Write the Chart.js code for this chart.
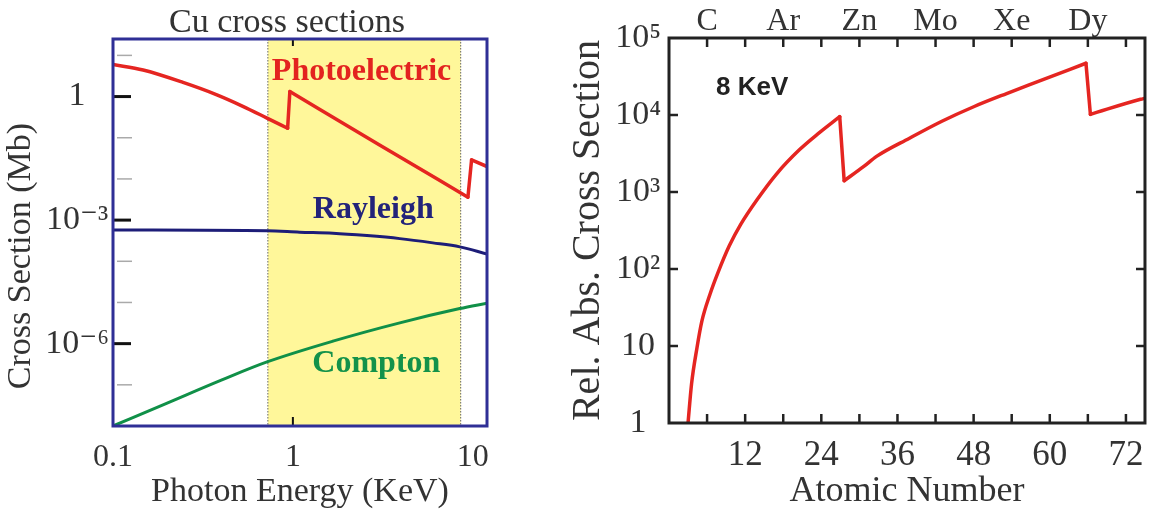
<!DOCTYPE html>
<html>
<head>
<meta charset="utf-8">
<script src="https://cdn.jsdelivr.net/npm/chart.js@4.4.1/dist/chart.umd.min.js"></script>
<style>
  html, body { margin: 0; padding: 0; background: #fff; }
  body { width: 1159px; height: 510px; position: relative; overflow: hidden; }
  #leftBox { position: absolute; left: 0; top: 0; width: 530px; height: 510px; }
  #rightBox { position: absolute; left: 540px; top: 0; width: 619px; height: 510px; }
</style>
</head>
<body>
<div id="leftBox"><canvas id="leftChart"></canvas></div>
<div id="rightBox"><canvas id="rightChart"></canvas></div>
<script>
// Cu cross sections (Mb) against photon energy (KeV)
const photoKeV = [0.1, 0.147, 0.245, 0.378, 0.527, 0.718, 0.935, 0.962, 3.0, 9.4, 9.85, 12];
const photoMb = [6.0, 4.4, 2.2, 1.1, 0.58, 0.30, 0.17, 1.32, 0.069, 0.0036, 0.029, 0.020];
const photoEdges = [6, 9]; // last point before the L and K edge jumps
const rayleighKeV = [0.1, 0.72, 1.09, 1.67, 2.58, 3.93, 6.0, 8.47, 12];
const rayleighMb = [5.75e-4, 5.5e-4, 5.1e-4, 4.8e-4, 4.2e-4, 3.55e-4, 2.8e-4, 2.24e-4, 1.5e-4];
const comptonKeV = [0.1, 0.2, 0.4, 0.718, 1.67, 3.93, 8.47, 12];
const comptonMb = [1.0e-8, 3.6e-8, 1.3e-7, 3.6e-7, 1.15e-6, 3.2e-6, 7.1e-6, 9.6e-6];
const energyTicks = [0.1, 1, 10];
const energyTickLabels = ['0.1', '1', '10'];
const energyTickMarks = [1];
const sectionTicks = [1e-6, 1e-3, 1];
const sectionTickLabels = ['10⁻⁶', '10⁻³', '1'];
const sectionMinorTicks = [1e-7, 1e-5, 1e-4, 1e-2, 1e-1, 10];
const bandKeV = [0.726, 8.57];

// relative absorption cross section at 8 KeV against atomic number
const atomicNumber = [3.0, 3.55, 4.41, 5.18, 6.46, 7.7, 9.5, 11.3, 13.9, 16.9, 20.5, 23.6, 26.9,
  27.6, 30.7, 32.7, 37.9, 43.0, 48.1, 53.2, 58.3, 65.7, 66.4, 74.3, 75];
const relAbs = [1.0, 3.2, 9.5, 21, 47, 89, 200, 380, 800, 1700, 3500, 5800, 9500,
  1400, 2150, 2900, 5000, 8300, 12900, 19000, 27500, 47000, 10200, 16000, 16500];
const relAbsEdges = [12, 21];
const zTicks = [12, 24, 36, 48, 60, 72];
const zTickMarks = [6, 12, 18, 24, 30, 36, 42, 48, 54, 60, 66, 72];
const elementZ = [6, 18, 30, 42, 54, 66];
const elementNames = ['C', 'Ar', 'Zn', 'Mo', 'Xe', 'Dy'];
const absTicks = [1, 10, 100, 1000, 10000, 100000];
const absTickLabels = ['1', '10', '10²', '10³', '10⁴', '10⁵'];
const absTickMarks = [10, 100, 1000, 10000];

const SERIF = "'Liberation Serif', 'DejaVu Serif', serif";
const SANS = "'Liberation Sans', Arial, sans-serif";
const TEXT = '#333';

function points(xs, ys) {
    return xs.map((x, i) => ({ x: x, y: ys[i] }));
}

// split a curve at its absorption edges so each smooth branch gets its own spline
function branches(xs, ys, edges) {
    const out = [];
    let start = 0;
    edges.concat([xs.length - 1]).forEach(end => {
        out.push(points(xs.slice(start, end + 1), ys.slice(start, end + 1)));
        if (end < xs.length - 1) {
            out.push(points(xs.slice(end, end + 2), ys.slice(end, end + 2)));
        }
        start = end + 1;
    });
    return out;
}

function curve(label, data, color, width) {
    return {
        label: label,
        data: data,
        borderColor: color,
        borderWidth: width,
        borderCapStyle: 'round',
        cubicInterpolationMode: 'monotone'
    };
}

function line(ctx, x0, y0, x1, y1) {
    ctx.beginPath();
    ctx.moveTo(x0, y0);
    ctx.lineTo(x1, y1);
    ctx.stroke();
}

const leftDecor = {
    id: 'leftDecor',
    beforeDatasetsDraw(chart) {
        const { ctx, chartArea: a, scales: { x } } = chart;
        const x0 = x.getPixelForValue(bandKeV[0]);
        const x1 = x.getPixelForValue(bandKeV[1]);
        ctx.save();
        ctx.fillStyle = '#fff79a';
        ctx.fillRect(x0, a.top, x1 - x0, a.bottom - a.top);
        ctx.strokeStyle = '#666';
        ctx.lineWidth = 1;
        ctx.setLineDash([1.5, 1.5]);
        line(ctx, x0, a.top, x0, a.bottom);
        line(ctx, x1, a.top, x1, a.bottom);
        ctx.restore();
    },
    afterDatasetsDraw(chart) {
        const { ctx, chartArea: a, scales: { x, y } } = chart;
        ctx.save();
        // minor and major ticks on the left axis
        ctx.strokeStyle = '#aaa';
        ctx.lineWidth = 1.5;
        sectionMinorTicks.forEach(v => {
            const py = y.getPixelForValue(v);
            line(ctx, a.left + 4, py, a.left + 19, py);
        });
        ctx.strokeStyle = '#111';
        ctx.lineWidth = 3;
        sectionTicks.forEach(v => {
            const py = y.getPixelForValue(v);
            line(ctx, a.left, py, a.left + 18, py);
        });
        ctx.lineWidth = 2;
        energyTickMarks.forEach(v => {
            const px = x.getPixelForValue(v);
            line(ctx, px, a.bottom, px, a.bottom - 9);
            line(ctx, px, a.top, px, a.top + 7);
        });
        // frame
        ctx.strokeStyle = '#2f2f96';
        ctx.lineWidth = 3;
        ctx.strokeRect(a.left, a.top, a.right - a.left, a.bottom - a.top);
        // series names
        ctx.font = 'bold 32px ' + SERIF;
        ctx.textBaseline = 'middle';
        ctx.textAlign = 'left';
        ctx.fillStyle = '#e3231f';
        ctx.fillText('Photoelectric', x.getPixelForValue(0.764), y.getPixelForValue(4.1));
        ctx.textAlign = 'center';
        ctx.fillStyle = '#23237a';
        ctx.fillText('Rayleigh', x.getPixelForValue(2.8), y.getPixelForValue(1.75e-3));
        ctx.fillStyle = '#13924a';
        ctx.fillText('Compton', x.getPixelForValue(2.91), y.getPixelForValue(3.25e-7));
        // chart title and y axis title
        ctx.fillStyle = TEXT;
        ctx.font = '34px ' + SERIF;
        ctx.fillText('Cu cross sections', 287, 23);
        ctx.translate(21, 256);
        ctx.rotate(-Math.PI / 2);
        ctx.fillText('Cross Section (Mb)', 0, 0);
        ctx.restore();
    }
};

const rightDecor = {
    id: 'rightDecor',
    afterDatasetsDraw(chart) {
        const { ctx, chartArea: a, scales: { x, y } } = chart;
        ctx.save();
        ctx.strokeStyle = '#222';
        ctx.lineWidth = 2.5;
        zTickMarks.forEach(v => {
            const px = x.getPixelForValue(v);
            line(ctx, px, a.bottom, px, a.bottom - 9);
            line(ctx, px, a.top, px, a.top + 9);
        });
        absTickMarks.forEach(v => {
            const py = y.getPixelForValue(v);
            line(ctx, a.left, py, a.left + 9, py);
            line(ctx, a.right, py, a.right - 9, py);
        });
        ctx.lineWidth = 3;
        ctx.strokeRect(a.left, a.top, a.right - a.left, a.bottom - a.top);
        ctx.fillStyle = '#222';
        ctx.font = 'bold 26px ' + SANS;
        ctx.textAlign = 'left';
        ctx.textBaseline = 'middle';
        ctx.fillText('8 KeV', x.getPixelForValue(7.4), y.getPixelForValue(22400));
        ctx.restore();
    }
};

const leftSets = [];
branches(photoKeV, photoMb, photoEdges).forEach(d => leftSets.push(curve('Photoelectric', d, '#e52521', 3.5)));
leftSets.push(curve('Rayleigh', points(rayleighKeV, rayleighMb), '#1d1d78', 3));
leftSets.push(curve('Compton', points(comptonKeV, comptonMb), '#109048', 3));

new Chart(document.getElementById('leftChart'), {
    type: 'line',
    data: { datasets: leftSets },
    options: {
        responsive: true,
        maintainAspectRatio: false,
        animation: false,
        events: [],
        layout: { padding: { left: 0, right: 43, top: 39, bottom: 0 } },
        elements: { point: { radius: 0 }, line: { fill: false } },
        plugins: { legend: { display: false }, tooltip: { enabled: false } },
        scales: {
            x: {
                type: 'logarithmic',
                min: 0.1,
                max: 12,
                afterBuildTicks: axis => { axis.ticks = energyTicks.map(v => ({ value: v })); },
                afterFit: scale => { scale.height = 84; },
                grid: { display: false, drawTicks: false },
                border: { display: false },
                ticks: {
                    autoSkip: false,
                    maxRotation: 0,
                    padding: 16,
                    color: TEXT,
                    font: { family: SERIF, size: 32, lineHeight: 1 },
                    callback: v => energyTickLabels[energyTicks.indexOf(v)]
                },
                title: {
                    display: true,
                    text: 'Photon Energy (KeV)',
                    color: TEXT,
                    font: { family: SERIF, size: 34, lineHeight: 1 },
                    padding: { top: 0, bottom: 1 }
                }
            },
            y: {
                type: 'logarithmic',
                min: 1e-8,
                max: 25,
                afterBuildTicks: axis => { axis.ticks = sectionTicks.map(v => ({ value: v })); },
                afterFit: scale => { scale.width = 113; },
                grid: { display: false, drawTicks: false },
                border: { display: false },
                ticks: {
                    autoSkip: false,
                    crossAlign: 'center',
                    padding: 4,
                    color: TEXT,
                    font: { family: SERIF, size: 34, lineHeight: 1 },
                    callback: v => sectionTickLabels[sectionTicks.indexOf(v)]
                }
            }
        }
    },
    plugins: [leftDecor]
});

const rightSets = branches(atomicNumber, relAbs, relAbsEdges).map(d => {
    const ds = curve('Rel. Abs. Cross Section', d, '#e52521', 3.5);
    ds.xAxisID = 'x';
    ds.yAxisID = 'y';
    return ds;
});

new Chart(document.getElementById('rightChart'), {
    type: 'line',
    data: { datasets: rightSets },
    options: {
        responsive: true,
        maintainAspectRatio: false,
        animation: false,
        events: [],
        layout: { padding: { left: 0, right: 2, top: 0, bottom: 0 } },
        elements: { point: { radius: 0 }, line: { fill: false } },
        plugins: { legend: { display: false }, tooltip: { enabled: false } },
        scales: {
            x: {
                type: 'linear',
                position: 'bottom',
                min: 0,
                max: 75,
                afterBuildTicks: axis => { axis.ticks = zTicks.map(v => ({ value: v })); },
                afterFit: scale => { scale.height = 87; },
                grid: { display: false, drawTicks: false },
                border: { display: false },
                ticks: {
                    autoSkip: false,
                    maxRotation: 0,
                    padding: 15,
                    color: TEXT,
                    font: { family: SERIF, size: 35, lineHeight: 1 }
                },
                title: {
                    display: true,
                    text: 'Atomic Number',
                    color: TEXT,
                    font: { family: SERIF, size: 36, lineHeight: 1 },
                    padding: { top: 0, bottom: 0 }
                }
            },
            x2: {
                type: 'linear',
                position: 'top',
                min: 0,
                max: 75,
                afterBuildTicks: axis => { axis.ticks = elementZ.map(v => ({ value: v })); },
                afterFit: scale => { scale.height = 38; },
                grid: { display: false, drawTicks: false },
                border: { display: false },
                ticks: {
                    autoSkip: false,
                    maxRotation: 0,
                    padding: 0,
                    color: TEXT,
                    font: { family: SERIF, size: 32, lineHeight: 1 },
                    callback: v => elementNames[elementZ.indexOf(v)]
                }
            },
            y: {
                type: 'logarithmic',
                min: 1,
                max: 100000,
                afterBuildTicks: axis => { axis.ticks = absTicks.map(v => ({ value: v })); },
                afterFit: scale => { scale.width = 129; },
                grid: { display: false, drawTicks: false },
                border: { display: false },
                ticks: {
                    autoSkip: false,
                    crossAlign: 'center',
                    padding: 8,
                    color: TEXT,
                    font: { family: SERIF, size: 34, lineHeight: 1 },
                    callback: v => absTickLabels[absTicks.indexOf(v)]
                },
                title: {
                    display: true,
                    text: 'Rel. Abs. Cross Section',
                    color: TEXT,
                    font: { family: SERIF, size: 40, lineHeight: 1 },
                    padding: { top: 28, bottom: 0 }
                }
            }
        }
    },
    plugins: [rightDecor]
});
</script>
</body>
</html>
